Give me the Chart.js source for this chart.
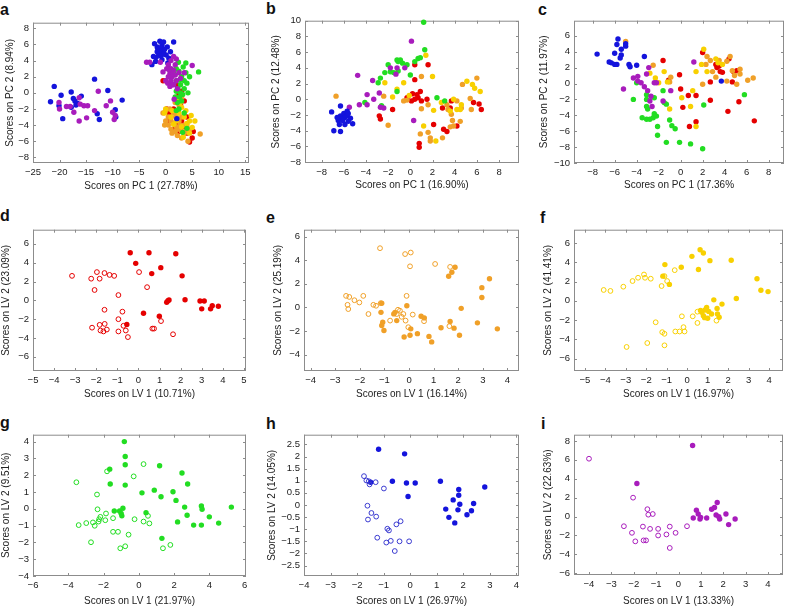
<!DOCTYPE html>
<html>
<head>
<meta charset="utf-8">
<script src="https://cdn.jsdelivr.net/npm/chart.js@4"></script>
<style>
  body { margin: 0; background: #fff; width: 788px; height: 606px; position: relative; overflow: hidden; }
  canvas { position: absolute; }
  .lbl { position: absolute; font: bold 16px/16px "Liberation Sans", Arial, sans-serif; color: #111; }
</style>
</head>
<body>
<div class="lbl" style="left:0px;top:1.5px">a</div>
<div class="lbl" style="left:266px;top:1px">b</div>
<div class="lbl" style="left:538px;top:1.5px">c</div>
<div class="lbl" style="left:0px;top:208px">d</div>
<div class="lbl" style="left:266px;top:210px">e</div>
<div class="lbl" style="left:540px;top:209.5px">f</div>
<div class="lbl" style="left:0px;top:415px">g</div>
<div class="lbl" style="left:266px;top:415.5px">h</div>
<div class="lbl" style="left:541px;top:415.5px">i</div>
<script>
// colours
const BLUE = '#1414dc', PURPLE = '#a81cbc', GREEN = '#22dd22', RED = '#e50000', ORANGE = '#f0a028', YELLOW = '#f8d000';

// ---- panel a (PCA, PC1 vs PC2)
const aBlue = [[-21.0,0.8],[-21.7,-1.1],[-19.7,-0.3],[-20.1,-1.6],[-19.4,-3.2],[-17.8,0.1],[-17.4,-0.7],[-17.1,-1.0],[-16.6,-1.3],[-15.9,-0.4],[-17.8,-1.8],[-16.9,-1.5],[-13.4,1.7],[-10.9,0.3],[-8.2,-0.9],[-9.5,-2.1],[-9.4,-3.0],[-12.9,-2.6],[-12.5,-3.3],
  [-2.1,6.1],[-1.6,5.7],[-1.1,6.4],[-0.7,5.9],[-0.4,6.3],[-1.0,5.3],[-1.6,5.1],[-0.4,5.1],[-1.3,4.7],[-2.3,4.5],[0.3,5.7],[0.1,4.7],[0.9,5.1],[-1.9,3.9],[-2.6,3.5],[0.4,3.7],[-0.7,4.1],[1.5,6.3],[-0.8,5.5],[-1.3,5.0],[-0.5,4.8],[-1.5,5.5],[-0.2,5.4],[-0.9,4.6],[-1.8,4.4],[0.6,4.3],[2.1,-3.2]];
const aPurple = [[-20.1,-1.2],[-20.0,-2.0],[-18.7,-1.7],[-17.3,-2.4],[-16.3,-0.6],[-16.1,-1.4],[-15.4,-1.6],[-14.7,-1.6],[-14.9,-3.1],[-16.3,-3.5],[-12.7,0.2],[-13.4,-2.2],[-11.2,-1.6],[-10.4,-1.0],[-10.0,-2.4],[-9.5,-2.8],[-18.0,-1.7],[-9.7,-3.3],
  [-3.6,3.8],[-3.0,3.8],[-1.0,3.8],[0.5,3.5],[1.0,3.0],[1.5,2.8],[0.8,2.4],[1.2,2.0],[1.8,2.2],[0.5,2.0],[-0.5,2.6],[0.2,3.0],[1.0,1.5],[1.5,1.0],[2.0,1.5],[2.5,2.5],[0.4,1.2],[1.8,3.5],[2.0,4.2],[5.0,3.4],[3.5,2.5],[1.2,1.0],[0.8,0.8],[2.2,0.5],[1.0,4.0],[0.0,1.5],[2.8,1.8],[1.5,4.5],[1.6,-0.8],[0.9,2.7],[1.3,2.4],[0.6,2.9]];
const aGreen = [[2.0,3.0],[2.5,2.7],[3.8,3.7],[3.0,2.0],[4.5,2.0],[6.2,2.6],[3.5,1.5],[2.8,1.0],[2.3,0.5],[2.8,0.0],[3.5,0.5],[4.0,1.2],[2.0,0.2],[2.6,-0.5],[3.2,-0.2],[1.8,-0.5],[2.2,-1.2],[3.0,-1.0],[2.0,-2.2],[2.5,-2.0],[3.5,-2.5],[4.0,-4.4],[3.2,-4.9],[2.0,1.5],[3.8,2.5],[1.5,2.5],[4.2,0.0],[2.7,1.6],[2.4,3.8],[3.3,3.2]];
const aYellow = [[0.0,-2.0],[1.2,-2.2],[2.5,-2.5],[3.5,-3.0],[4.5,-3.5],[5.5,-3.5],[5.0,-4.3],[2.0,-3.5],[3.0,-4.2],[1.0,-3.0],[4.0,-3.8],[2.3,-1.0],[3.0,-1.8],[3.8,-2.2],[1.5,-3.9],[4.5,-5.0],[3.3,-5.5],[-0.2,-2.5],[2.8,-1.2],[4.8,-2.8]];
const aOrange = [[-0.5,-2.5],[0.0,-2.2],[0.5,-3.0],[1.0,-3.5],[1.5,-3.8],[2.0,-4.2],[2.5,-4.5],[3.0,-4.8],[3.5,-5.0],[1.0,-4.5],[0.5,-4.0],[2.0,-3.0],[2.5,-3.5],[3.0,-3.0],[1.5,-2.5],[0.8,-2.0],[3.5,-4.0],[4.0,-4.0],[4.5,-4.5],[6.5,-5.1],[4.2,-6.0],[0.0,-3.5],[1.2,-5.0],[2.2,-5.3],[3.0,-5.6],[-0.2,-4.0],[1.8,-4.8],[2.8,-4.0],[3.8,-4.8],[2.0,-2.5],[2.5,-1.5],[3.0,-0.5],[1.8,-1.2]];
const aRed = [[-0.5,1.5],[0.0,1.5],[2.0,1.0],[3.0,0.2],[2.5,-0.2],[3.5,-1.0],[1.5,-2.0],[0.2,-2.0],[1.0,-3.0],[2.0,-4.0],[3.0,-3.5],[4.0,-5.0],[4.5,-6.1],[5.0,-5.6],[5.2,-4.8],[1.5,-4.5],[2.5,-4.8],[0.5,-3.5],[2.2,-3.4],[3.5,-4.2],[0.6,-2.5],[4.0,-3.0],[2.8,-1.5]];
const aXTicks = [-25, -20, -15, -10, -5, 0, 5, 10, 15];
const aYTicks = [-8, -6, -4, -2, 0, 2, 4, 6, 8];

// ---- panel b
const bBlue = [[-7.1,-1.6],[-6.9,-4.0],[-6.3,-0.85],[-6.3,-2.1],[-6.4,-3.2],[-6.2,-2.5],[-6.0,-1.8],[-5.9,-2.3],[-5.7,-1.5],[-5.7,-2.1],[-5.6,-2.8],[-5.4,-2.4],[-5.2,-3.1],[-6.3,-4.1],[-6.1,-2.7],[-5.9,-3.2],[-6.5,-2.7],[-5.6,-1.8],[-6.6,-2.3]];
const bPurple = [[-4.75,3.05],[-3.9,-0.7],[-3.9,0.6],[-4.6,-0.7],[-3.4,2.4],[-3.3,0],[-2.8,0.8],[-2.7,-1.0],[-2.4,-1.1],[-1.8,4.0],[-1.3,3.2],[-1.2,4.0],[-0.5,4.0],[0.1,7.4],[0.3,-2.7],[-5.5,-1.0]];
const bGreen = [[-4.1,-0.4],[-2.9,2.1],[-2.7,2.7],[-2.3,3.4],[-2.0,4.4],[-1.8,3.5],[-1.2,5.0],[-1.1,4.8],[-0.9,5.0],[-0.7,4.6],[-0.3,4.4],[-1.1,3.6],[0,3.1],[0.4,4.8],[0.7,5.2],[0.9,5.3],[1.3,6.3],[1.2,9.8],[-1.2,1.0],[-2.6,-0.8],[2.4,0.2],[3.1,-0.2],[-1.5,3.4]];
const bYellow = [[1.4,5.6],[2.0,2.9],[-0.6,2.1],[-1.2,1.3],[-1.6,0.3],[-2.3,2.1],[-0.1,0.5],[2.1,-1.4],[1.2,-3.4],[2.3,-5.3],[2.8,-0.4],[3.9,0],[4.2,-1.3],[4.5,-1.3],[5.1,2.3],[5.6,1.9],[5.8,1.4],[6.3,1.0],[4.6,-0.7],[3.6,-1.5]];
const bOrange = [[-6.7,0.4],[-2.4,0.4],[-2.0,-3.3],[-0.6,-0.2],[0.9,-4.4],[1.0,2.9],[1.6,-0.7],[1.6,-4.2],[1.8,-4.9],[1.8,-5.3],[2.9,-4.9],[3.3,-0.7],[3.4,-1.3],[3.7,-1.9],[3.8,-2.7],[3.6,-3.5],[3.9,-3.4],[4.5,-2.8],[4.7,1.9],[5.4,0.1],[5.5,-1.3],[6.0,2.7],[4.6,-1.1],[4.2,-0.2],[1.0,-1.2],[-0.3,-0.1]];
const bRed = [[0.4,4.4],[1.6,4.4],[0.4,2.5],[-2.8,-2.1],[-2.7,-2.5],[-1.6,-1.3],[-0.3,0.2],[0.1,-0.2],[0.4,0],[0.7,0.2],[0.9,1.0],[0.6,0.6],[1.0,-0.2],[0.2,0.7],[0.8,-5.6],[0.8,-6.1],[2.1,-3.2],[3.0,-3.8],[3.3,-4.1],[4.2,-3.4],[3.7,-0.2],[3.6,-1.1],[5.7,-0.4],[6.2,-0.6],[6.4,-1.3],[2.9,-1.1],[1.5,0]];
const bXTicks = [-8, -6, -4, -2, 0, 2, 4, 6, 8];
const bYTicks = [-8, -6, -4, -2, 0, 2, 4, 6, 8, 10];

// ---- panel c
const cBlue = [[-7.6,3.7],[-5.7,5.6],[-5.8,4.9],[-6.0,3.8],[-6.3,2.6],[-6.0,2.4],[-5.5,3.2],[-5.4,4.3],[-5.4,3.6],[-5.0,5.0],[-5.0,4.7],[-4.7,2.4],[-4.6,2.1],[-4.0,2.3],[-3.3,3.4],[3.7,0.3],[-6.5,2.7],[-5.8,2.4]];
const cPurple = [[-5.2,-0.7],[-4.3,0.7],[-3.9,0.9],[-3.9,0.3],[-3.1,1.2],[-2.9,2.0],[-3.0,-0.9],[-2.7,-1.6],[-2.6,-2.9],[-2.4,0.1],[-2.2,0.1],[-1.6,-2.2],[-0.9,-0.9],[1.2,2.7],[-3.6,0.1],[-2.8,-2.2],[-3.3,-0.4]];
const cGreen = [[-4.3,-2.0],[-4.0,0.1],[-3.1,-1.4],[-3.1,-2.0],[-3.1,-2.9],[-3.0,-3.2],[-3.5,-4.3],[-3.1,-4.5],[-2.8,-4.5],[-2.5,-4.3],[-2.4,-3.8],[-2.2,-4.1],[-2.1,-5.4],[-2.1,-6.5],[-1.6,-0.9],[-1.5,-2.4],[-1.3,-2.6],[-1.0,-4.6],[-0.8,-5.3],[-0.5,-5.7],[-1.3,-7.4],[-0.1,-7.4],[0.9,-7.6],[2.0,-8.2],[2.1,-2.7],[5.8,-1.4],[-2.4,-1.8]];
const cYellow = [[-2.8,1.3],[-2.0,0.1],[-1.5,1.5],[-1.2,0.2],[-1.0,-3.2],[0.1,-1.8],[0.9,-2.9],[1.1,-0.9],[1.4,-5.4],[1.4,1.5],[2.1,4.3],[3.2,3.1],[3.4,2.6],[2.4,1.5],[1.9,2.4],[3.8,2.4],[-2.3,0.7]];
const cOrange = [[-5.0,5.3],[-2.5,2.3],[-0.9,0.8],[2.3,2.4],[2.4,3.4],[2.7,2.9],[2.9,1.5],[2.0,-0.1],[3.5,2.9],[4.2,2.8],[4.5,3.4],[4.7,1.6],[4.9,1.0],[5.1,-0.1],[5.4,1.2],[6.1,0.4],[6.6,0.7],[4.2,0.3],[5.4,1.8],[3.2,0.8],[-1.0,0.2]];
const cRed = [[-1.6,2.9],[-1.1,0.4],[-0.1,1.1],[0,-0.7],[0.2,-3.0],[0.7,-1.5],[0.8,-5.4],[1.4,-4.8],[1.4,-1.5],[2.7,-2.1],[2.7,0.2],[2.0,3.9],[3.2,2.4],[3.5,2.2],[3.6,1.5],[3.8,1.4],[4.4,3.1],[4.3,-3.5],[5.3,-2.3],[4.8,1.5],[5.1,1.6],[4.7,0.2],[6.7,-4.7],[3.3,2.0]];
const cXTicks = [-8, -6, -4, -2, 0, 2, 4, 6, 8];
const cYTicks = [-10, -8, -6, -4, -2, 0, 2, 4, 6];

// ---- panel d (red, PLS-DA)
const dOpen = [[-3.15,2.6],[-2.24,2.3],[-1.97,3.0],[-1.84,2.3],[-2.08,1.1],[-1.61,2.9],[-1.37,2.7],[-1.15,2.6],[-0.95,0.56],[0.03,3.0],[0.41,1.4],[-1.61,-1.0],[-0.76,-1.2],[-0.95,-2.0],[-0.71,-2.7],[-0.6,-3.2],[-0.5,-3.9],[-0.95,-3.3],[-2.2,-2.9],[-1.84,-2.6],[-1.6,-2.5],[-1.8,-3.2],[-1.66,-3.3],[-1.5,-3.1],[0.66,-3.0],[0.74,-3.0],[1.07,-2.2],[1.64,-3.6]];
const dFilled = [[-0.39,5.05],[0.5,5.05],[1.77,4.95],[-0.13,3.93],[0.63,2.84],[1.06,3.47],[2.07,2.6],[0.24,-1.37],[0.99,-1.68],[-0.55,-2.56],[1.34,-0.2],[1.45,0.03],[2.21,0.07],[2.92,-0.07],[3.12,-0.07],[3.0,-0.9],[3.42,-0.9],[3.5,-0.56],[3.79,-0.63],[1.4,-0.05]];
const dXTicks = [-5, -4, -3, -2, -1, 0, 1, 2, 3, 4, 5];
const dYTicks = [-6, -4, -2, 0, 2, 4, 6];

// ---- panel e (orange)
const eOpen = [[-1.18,5.03],[-0.16,4.53],[0.07,4.66],[0.04,3.49],[1.06,3.69],[1.67,3.44],[-2.56,0.98],[-2.43,0.89],[-2.22,0.61],[-2.02,0.42],[-1.86,0.98],[-2.5,0.22],[-2.47,-0.14],[-1.65,-0.56],[-1.45,0.22],[-1.34,0.14],[-1.15,0.36],[-0.77,-1.12],[-0.5,-0.56],[-0.37,-0.28],[-0.23,-0.56],[-0.14,-1.12],[-0.1,0.98],[-0.03,-1.68],[0.15,-0.61],[0.61,-1.17],[1.64,-1.59],[-0.45,-0.2],[-0.3,-0.8]];
const eFilled = [[-1.11,0.36],[-1.14,-0.42],[-1.11,-1.54],[-1.07,-1.26],[-1.02,-1.96],[-0.57,-0.42],[-0.5,-1.12],[-0.09,0.14],[0.07,-1.82],[0.04,-2.37],[-0.2,-2.51],[0.34,-2.23],[0.49,-0.75],[0.62,-0.89],[0.81,-2.46],[0.92,-2.93],[1.3,-1.73],[1.61,2.65],[1.74,2.99],[1.87,3.41],[1.67,-1.2],[1.83,-1.76],[2.05,-2.37],[2.12,-0.08],[2.78,-1.31],[2.96,0.84],[2.96,1.68],[3.27,2.43],[3.59,-1.82],[-0.62,-0.55]];
const eXTicks = [-4, -3, -2, -1, 0, 1, 2, 3, 4];
const eYTicks = [-4, -2, 0, 2, 4, 6];

// ---- panel f (yellow)
const fOpen = [[-4.08,1.13],[-3.75,1.03],[-3.12,1.47],[-2.67,2.06],[-2.4,2.4],[-2.11,2.74],[-2.06,2.4],[-1.78,2.3],[-1.25,1.54],[-1.11,2.57],[-0.98,2.06],[-0.61,3.19],[-1.54,-2.23],[-1.22,-3.26],[-1.11,-3.43],[-1.11,-4.63],[-1.95,-4.39],[-2.96,-4.8],[-0.58,-3.19],[-0.37,-3.19],[-0.13,-3.19],[-0.18,-2.74],[-0.26,-1.61],[0.27,-1.61],[0.5,-2.3],[0.5,-1.13],[1.43,-2.06]];
const fFilled = [[-1.09,3.77],[-1.19,2.57],[-0.87,1.71],[-0.29,3.5],[0.23,4.63],[0.63,5.31],[0.79,4.97],[0.55,3.26],[1.11,4.18],[2.15,4.22],[3.41,2.3],[3.6,1.1],[3.95,0.96],[2.4,0.24],[1.3,0.1],[0.71,-1.2],[0.79,-1.54],[0.87,-0.96],[0.95,-0.69],[1.0,-1.82],[1.19,-1.37],[1.46,-0.79],[1.48,-1.37],[1.56,-1.71],[1.7,-0.34],[0.85,-1.75],[1.05,-1.1],[0.65,-1.0]];
const fXTicks = [-5, -4, -3, -2, -1, 0, 1, 2, 3, 4];
const fYTicks = [-6, -4, -2, 0, 2, 4, 6];

// ---- panel g (green)
const gOpen = [[-3.54,1.58],[-3.41,-0.97],[-2.98,-0.85],[-2.71,-1.99],[-2.6,-0.81],[-2.5,-1.01],[-2.37,0.85],[-2.34,-0.03],[-2.28,-0.76],[-2.25,-0.62],[-2.18,-0.48],[-1.9,-0.68],[-1.86,-0.28],[-1.8,2.23],[-1.46,-1.37],[-1.46,-0.56],[-1.18,-1.37],[-1.05,-2.35],[-0.77,-2.23],[-0.58,-1.54],[-0.29,1.93],[-0.24,-0.62],[0.27,2.66],[0.27,-0.76],[0.52,-0.42],[0.6,-0.87],[1.37,-2.35],[1.79,-2.15]];
const gFilled = [[-0.82,4.0],[-0.77,3.11],[-0.77,2.62],[-1.65,2.36],[-1.62,1.48],[-0.77,1.41],[-1.39,-0.13],[-1.09,-0.13],[-1.0,-0.28],[-0.9,0.03],[-0.96,-0.42],[0.41,-0.23],[0.18,0.95],[0.88,1.11],[1.26,0.72],[1.18,2.56],[1.31,-1.76],[1.94,1.01],[2.11,0.5],[2.2,-0.78],[2.45,2.13],[2.6,0.1],[2.74,-0.38],[2.77,1.48],[3.11,-0.97],[3.55,-0.97],[3.55,0.17],[3.59,-0.03],[4.0,-0.48],[4.53,-0.85],[5.25,0.1]];
const gXTicks = [-6, -4, -2, 0, 2, 4, 6];
const gYTicks = [-4, -3, -2, -1, 0, 1, 2, 3, 4];

// ---- panel h (blue)
const hOpen = [[-1.74,1.19],[-1.65,1.01],[-1.61,-0.03],[-1.59,-0.6],[-1.56,0.98],[-1.53,0.85],[-1.46,-0.33],[-1.3,0.94],[-1.28,-0.48],[-1.24,-1.35],[-0.99,0.68],[-0.86,-0.98],[-0.8,-1.05],[-0.9,-1.55],[-0.73,-1.48],[-0.58,-1.9],[-0.52,-0.8],[-0.36,-0.67],[-0.4,-1.5],[-0.04,-1.5]];
const hFilled = [[-1.19,2.3],[-0.21,2.11],[-0.67,0.98],[-0.14,0.91],[0.19,0.91],[-0.08,0.35],[1.14,0.98],[1.34,-0.17],[1.46,-0.51],[1.62,0.21],[1.68,-0.74],[1.8,-0.2],[1.83,0.4],[1.83,0.64],[1.87,0.03],[2.14,-0.4],[2.31,-0.24],[2.39,0.06],[2.81,0.74],[-1.49,0.94]];
const hXTicks = [-4, -3, -2, -1, 0, 1, 2, 3, 4];
const hYTicks = [-2.5, -2, -1.5, -1, -0.5, 0, 0.5, 1, 1.5, 2, 2.5];

// ---- panel i (purple)
const iOpen = [[-4.0,6.12],[-2.44,-1.02],[-2.08,-1.72],[-2.03,2.0],[-1.93,-2.62],[-1.59,-1.06],[-1.56,-2.52],[-1.45,-2.52],[-1.39,0.78],[-1.35,0.2],[-1.27,-1.3],[-1.15,0.27],[-0.91,-1.3],[-0.91,-2.0],[-0.54,-1.89],[-0.39,-1.06],[-0.39,-3.32],[-0.13,-1.72],[0.38,-1.02]];
const iFilled = [[-1.86,3.5],[0.63,7.52],[0.66,-0.15],[0.8,0.68],[0.88,0.27],[0.96,-0.25],[0.99,-0.08],[1.26,-0.15],[1.48,0.78],[1.61,0.96],[1.73,1.49],[1.68,0.16],[1.8,-0.01],[1.84,-0.25],[2.12,0.27],[2.24,-0.85],[2.53,-0.25]];
const iXTicks = [-4, -3, -2, -1, 0, 1, 2, 3, 4];
const iYTicks = [-6, -4, -2, 0, 2, 4, 6, 8];

const FONT = '"Liberation Sans", Arial, sans-serif';
const fmt = v => String(v).replace('-', '\u2212');

// box with inward ticks on all four sides, MATLAB style
const boxPlugin = {
  id: 'box',
  beforeDatasetsDraw(chart) {
    const {ctx, chartArea: {left, top, right, bottom}, scales: {x, y}} = chart;
    ctx.save();
    ctx.strokeStyle = '#8c8c8c';
    ctx.lineWidth = 1;
    ctx.strokeRect(left + 0.5, top + 0.5, right - left - 1, bottom - top - 1);
    ctx.beginPath();
    x.ticks.forEach(t => {
      const px = Math.round(x.getPixelForValue(t.value)) + 0.5;
      ctx.moveTo(px, bottom); ctx.lineTo(px, bottom - 3);
      ctx.moveTo(px, top); ctx.lineTo(px, top + 3);
    });
    y.ticks.forEach(t => {
      const py = Math.round(y.getPixelForValue(t.value)) + 0.5;
      ctx.moveTo(left, py); ctx.lineTo(left + 3, py);
      ctx.moveTo(right, py); ctx.lineTo(right - 3, py);
    });
    ctx.stroke();
    ctx.restore();
  }
};

const filled = (pts, c) => ({pts, c, open: false});
const open = (pts, c) => ({pts, c, open: true});

const panels = [
  {box: [33, 21, 249, 163], yT: 10, xT: 185.7, xr: [-25, 15.7], yr: [-8.7, 8.7], xt: aXTicks, yt: aYTicks,
   xl: 'Scores on PC 1 (27.78%)', yl: 'Scores on PC 2 (8.94%)',
   sets: [filled(aPurple, PURPLE), filled(aBlue, BLUE), filled(aGreen, GREEN), filled(aYellow, YELLOW), filled(aOrange, ORANGE), filled(aRed, RED)]},
  {box: [305, 19, 519, 163], yT: 276, xT: 185, xr: [-9.5, 9.8], yr: [-8.1, 10], xt: bXTicks, yt: bYTicks,
   xl: 'Scores on PC 1 (16.90%)', yl: 'Scores on PC 2 (12.48%)',
   sets: [filled(bBlue, BLUE), filled(bPurple, PURPLE), filled(bGreen, GREEN), filled(bYellow, YELLOW), filled(bOrange, ORANGE), filled(bRed, RED)]},
  {box: [574, 19, 786, 163], yT: 543.5, xT: 185, xr: [-9.7, 9.4], yr: [-10, 7.9], xt: cXTicks, yt: cYTicks,
   xl: 'Scores on PC 1 (17.36%', yl: 'Scores on PC 2 (11.97%)',
   sets: [filled(cBlue, BLUE), filled(cPurple, PURPLE), filled(cGreen, GREEN), filled(cYellow, YELLOW), filled(cOrange, ORANGE), filled(cRed, RED)]},
  {box: [33, 228, 246, 371], yT: 6, xT: 394.3, xr: [-5, 5.1], yr: [-7.5, 7.5], xt: dXTicks, yt: dYTicks,
   xl: 'Scores on LV 1 (10.71%)', yl: 'Scores on LV 2 (23.09%)',
   sets: [open(dOpen, RED), filled(dFilled, RED)]},
  {box: [304, 228, 519, 371], yT: 278, xT: 394, xr: [-4.27, 4.47], yr: [-5.4, 6.6], xt: eXTicks, yt: eYTicks,
   xl: 'Scores on LV 1 (16.14%)', yl: 'Scores on LV 2 (25.19%)',
   sets: [open(eOpen, ORANGE), filled(eFilled, ORANGE)]},
  {box: [574, 228, 786, 371], yT: 548, xT: 394, xr: [-5.53, 4.68], yr: [-7.3, 7.4], xt: fXTicks, yt: fYTicks,
   xl: 'Scores on LV 1 (16.97%)', yl: 'Scores on LV 2 (41.41%)',
   sets: [open(fOpen, YELLOW), filled(fFilled, YELLOW)]},
  {box: [33, 433, 246, 576], yT: 6, xT: 600.5, xr: [-6, 6.08], yr: [-4, 4.41], xt: gXTicks, yt: gYTicks,
   xl: 'Scores on LV 1 (21.97%)', yl: 'Scores on LV 2 (9.51%)',
   sets: [open(gOpen, GREEN), filled(gFilled, GREEN)]},
  {box: [304, 433, 519, 576], yT: 272, xT: 600.5, xr: [-4, 4.1], yr: [-2.93, 2.9], xt: hXTicks, yt: hYTicks,
   xl: 'Scores on LV 1 (26.97%)', yl: 'Scores on LV 2 (14.05%)',
   sets: [open(hOpen, '#3a3ad0'), filled(hFilled, BLUE)]},
  {box: [574, 433, 786, 575], yT: 548, xT: 600.5, xr: [-4.67, 4.67], yr: [-6.18, 8.66], xt: iXTicks, yt: iYTicks,
   xl: 'Scores on LV 1 (13.33%)', yl: 'Scores on LV 2 (22.63%)',
   sets: [open(iOpen, PURPLE), filled(iFilled, PURPLE)]}
];

panels.forEach(p => {
  const [bl, bt, br, bb] = p.box;
  const cl = Math.max(0, Math.round(p.yT - 6));
  const ct = bt - 8;
  const padR = br >= 780 ? 788 - br : 8;
  const cb = Math.round(p.xT + 6);
  const cv = document.createElement('canvas');
  cv.width = br + padR - cl;
  cv.height = cb - ct;
  cv.style.left = cl + 'px';
  cv.style.top = ct + 'px';
  document.body.appendChild(cv);
  const yW = bl - cl, xH = cb - bb;

  const axis = (range, ticks, label, fit) => ({
    type: 'linear', min: range[0], max: range[1],
    afterFit: fit,
    afterBuildTicks: s => { s.ticks = ticks.map(v => ({value: v})); },
    grid: {display: false, drawTicks: false},
    border: {display: false},
    ticks: {padding: 4, autoSkip: false, maxRotation: 0, color: '#222', font: {family: FONT, size: 9.5}, callback: fmt},
    title: {display: true, text: label, color: '#222', padding: 0, font: {family: FONT, size: 10}}
  });

  new Chart(cv, {
    type: 'scatter',
    data: {
      datasets: p.sets.map(s => ({
        data: s.pts.map(q => ({x: q[0], y: q[1]})),
        pointRadius: s.open ? 2.4 : 2.7,
        pointBackgroundColor: s.open ? 'rgba(0,0,0,0)' : s.c,
        pointBorderColor: s.c,
        pointBorderWidth: s.open ? 1 : 0,
        clip: 4
      }))
    },
    options: {
      responsive: false, animation: false, events: [],
      layout: {padding: {left: 0, top: 8, right: padR, bottom: 0}},
      plugins: {legend: {display: false}, tooltip: {enabled: false}},
      scales: {
        x: axis(p.xr, p.xt, p.xl, s => { s.height = xH; }),
        y: axis(p.yr, p.yt, p.yl, s => { s.width = yW; })
      }
    },
    plugins: [boxPlugin]
  });
});
</script>
</body>
</html>
